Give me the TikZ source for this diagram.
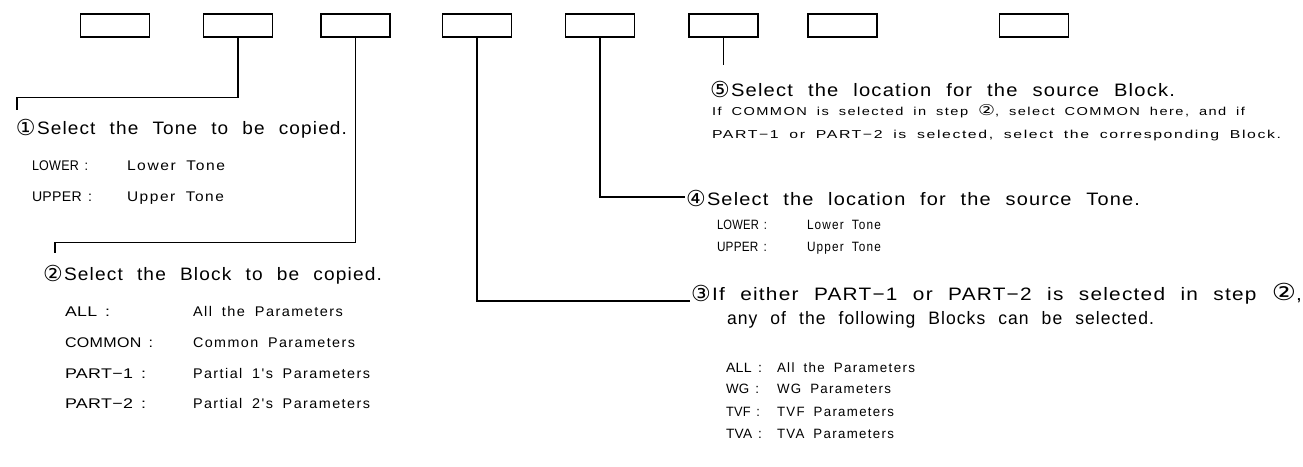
\documentclass[tikz,border=0pt]{standalone}
\usepackage{fontspec}
\usepackage{graphicx}
\setmainfont{Liberation Sans}
\newfontfamily\hfont{Liberation Sans}[LetterSpace=6,WordSpace=2.2]
\newfontfamily\sfontx{Liberation Sans}[LetterSpace=10,WordSpace=1.8]
\newfontfamily\lfontx{Liberation Sans}[LetterSpace=2,WordSpace=1.5]
\newfontfamily\cfont{DejaVu Sans}
\newsavebox\fitbox
\newcommand\fitto[2]{\sbox\fitbox{#2}\pgfmathsetmacro\fitfac{#1/\the\wd\fitbox}\scalebox{\fitfac}[1]{\usebox\fitbox}}
\newcommand\ci[1]{\scalebox{1.3}{\cfont #1}}
\tikzset{
  keybox/.style={draw, line width=1.3pt, minimum width=69pt, minimum height=23pt, inner sep=0pt},
  conn/.style={line width=1.3pt},
  txt/.style={anchor=base west, inner sep=0pt, outer sep=0pt},
  head/.style={txt, font=\hfont\fontsize{18}{20}\selectfont},
  circ/.style={txt, font=\cfont\fontsize{22}{22}\selectfont},
  sm/.style={txt, font=\sfontx\fontsize{14}{16}\selectfont},
  lab/.style={txt, font=\lfontx\fontsize{14}{16}\selectfont},
  smr/.style={txt, font=\sfontx\fontsize{13.5}{15}\selectfont},
  labr/.style={txt, font=\lfontx\fontsize{13.5}{15}\selectfont},
  tiny/.style={txt, font=\sfontx\fontsize{11.5}{13}\selectfont},
}
\begin{document}
\begin{tikzpicture}[x=1pt,y=-1pt]
\useasboundingbox (0,0) rectangle (1303,466);
% keys
\node[keybox] (b1) at (115,25.5) {};
\node[keybox] (b2) at (238,25.5) {};
\node[keybox] (b3) at (355.5,25.5) {};
\node[keybox] (b4) at (477,25.5) {};
\node[keybox] (b5) at (600,25.5) {};
\node[keybox] (b6) at (723.5,25.5) {};
\node[keybox] (b7) at (842.5,25.5) {};
\node[keybox] (b8) at (1034,25.5) {};
% free ends
\coordinate (e1) at (17,110);
\coordinate (e2) at (55,253);
\coordinate (e3) at (690,301);
\coordinate (e4) at (685,197);
\coordinate (e5) at (723.5,65);
% connectors
\draw[conn] (b2.south) -- ++(0,60) -| (e1);
\draw[conn] (b3.south) -- ++(0,205) -| (e2);
\draw[conn] (b4.south) |- (e3);
\draw[conn] (b5.south) |- (e4);
\draw[conn] (b6.south) -- (e5);
% step 1
\node[circ] (c1) at (16,135) {①};
\node[head] (h1) at (37,134) {\fitto{310}{Select the Tone to be copied.}};
\node[lab] (l1a) at (32,170) {\fitto{56}{LOWER :}};
\node[sm] (v1a) at (127,170) {\fitto{98}{Lower Tone}};
\node[lab] (l1b) at (32,201) {\fitto{60}{UPPER :}};
\node[sm] (v1b) at (127,201) {\fitto{97}{Upper Tone}};
% step 2
\node[circ] (c2) at (43,281) {②};
\node[head] (h2) at (64,280) {\fitto{318}{Select the Block to be copied.}};
\node[lab] (l2a) at (65,316) {\fitto{45}{ALL :}};
\node[sm] (v2a) at (193,316) {\fitto{150}{All the Parameters}};
\node[lab] (l2b) at (65,347) {\fitto{88}{COMMON :}};
\node[sm] (v2b) at (193,347) {\fitto{162}{Common Parameters}};
\node[lab] (l2c) at (65,378) {\fitto{81}{PART−1 :}};
\node[sm] (v2c) at (193,378) {\fitto{177}{Partial 1's Parameters}};
\node[lab] (l2d) at (65,408) {\fitto{81}{PART−2 :}};
\node[sm] (v2d) at (193,408) {\fitto{177}{Partial 2's Parameters}};
% step 5
\node[circ] (c5) at (710,97) {⑤};
\node[head] (h5) at (731,96) {\fitto{444}{Select the location for the source Block.}};
\node[tiny] (n5a) at (712,115) {\fitto{533}{If COMMON is selected in step \ci{②}, select COMMON here, and if}};
\node[tiny] (n5b) at (712,138) {\fitto{569}{PART−1 or PART−2 is selected, select the corresponding Block.}};
% step 4
\node[circ] (c4) at (686,206) {④};
\node[head] (h4) at (707,205) {\fitto{433}{Select the location for the source Tone.}};
\node[labr] (l4a) at (717,229) {\fitto{50}{LOWER :}};
\node[smr] (v4a) at (807,229) {\fitto{74}{Lower Tone}};
\node[labr] (l4b) at (717,251) {\fitto{50}{UPPER :}};
\node[smr] (v4b) at (807,251) {\fitto{74}{Upper Tone}};
% step 3
\node[circ] (c3) at (691,301) {③};
\node[head] (h3a) at (712,300) {\fitto{590}{If either PART−1 or PART−2 is selected in step \ci{②},}};
\node[head] (h3b) at (727,324) {\fitto{427}{any of the following Blocks can be selected.}};
\node[labr] (l3a) at (726,372) {\fitto{36}{ALL :}};
\node[smr] (v3a) at (777,372) {\fitto{138}{All the Parameters}};
\node[labr] (l3b) at (726,393) {\fitto{33}{WG :}};
\node[smr] (v3b) at (777,393) {\fitto{114}{WG Parameters}};
\node[labr] (l3c) at (726,416) {\fitto{34}{TVF :}};
\node[smr] (v3c) at (777,416) {\fitto{117}{TVF Parameters}};
\node[labr] (l3d) at (726,438) {\fitto{36}{TVA :}};
\node[smr] (v3d) at (777,438) {\fitto{117}{TVA Parameters}};
\end{tikzpicture}
\end{document}
